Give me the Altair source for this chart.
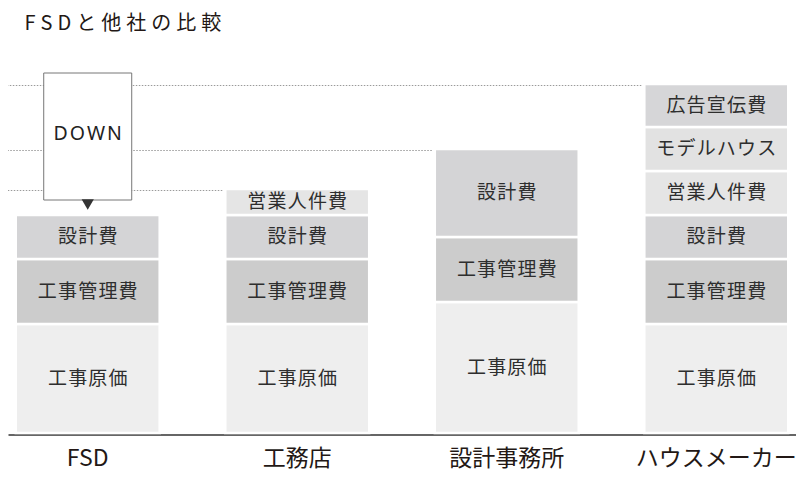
import altair as alt
import pandas as pd

FONT = "Noto Sans CJK JP"
HAIR = "\u200a"

# ---- data -------------------------------------------------------------
categories = ["FSD", "工務店", "設計事務所", "ハウスメーカー"]
segment_names = ["工事原価", "工事管理費", "設計費", "営業人件費", "モデルハウス", "広告宣伝費"]
segment_colors = ["#eeeeee", "#cccccc", "#d4d4d6", "#e5e5e5", "#e2e2e2", "#d6d6d8"]

fsd_values = [109, 65, 44]
koumuten_values = [109, 65, 44, 26]
sekkei_values = [131, 65, 88]
housemaker_values = [109, 65, 44, 44, 44, 43]

down_box = [233, 360]       # FSD "DOWN" callout (bottom, top)
down_marker = 228.5         # arrow head position
down_label = 299.5          # "DOWN" text position
title_text = "FSDと他社の比較"
down_text = "DOWN"

# ---- tables -----------------------------------------------------------
rows = []
for cat, vals in zip(categories, [fsd_values, koumuten_values, sekkei_values, housemaker_values]):
    cum = 0
    for name, v in zip(segment_names, vals):
        rows.append({"cat": cat, "seg": name, "start": cum, "end": cum + v,
                     "mid": cum + v / 2, "label": HAIR.join(name)})
        cum += v
seg_df = pd.DataFrame(rows)

totals_df = (seg_df.groupby("cat", sort=False)["end"].max().reset_index()
             .rename(columns={"end": "total"}))
totals_df = totals_df[totals_df["cat"] != "FSD"]

down_df = pd.DataFrame([{"cat": "FSD", "y0": down_box[0], "y1": down_box[1],
                         "marker": down_marker, "ly": down_label,
                         "text": HAIR.join(down_text)}])

# ---- encodings --------------------------------------------------------
x_scale = alt.Scale(domain=categories, paddingInner=0.313, paddingOuter=0.037)
x_axis = alt.Axis(title=None, labelAngle=0, labelFontSize=23, labelFont=FONT,
                  labelColor="#231815", ticks=False, domainColor="#666666",
                  domainWidth=2, offset=1.5, labelPadding=13, grid=False)
y_scale = alt.Scale(domain=[0, 397], nice=False, zero=True)


def X(**kw):
    return alt.X("cat:N", sort=categories, scale=x_scale, axis=x_axis, **kw)


rules = alt.Chart(totals_df).mark_rule(
    color="#9a9a9a", strokeDash=[1.5, 1.5], strokeWidth=1, yOffset=1.5, xOffset=-3
).encode(
    x=X(bandPosition=0),
    x2=alt.value(0),
    y=alt.Y("total:Q", scale=y_scale, axis=None),
)

bars = alt.Chart(seg_df).mark_bar(stroke="white", strokeWidth=2.5).encode(
    x=X(),
    y=alt.Y("start:Q", scale=y_scale, axis=None),
    y2="end:Q",
    color=alt.Color("seg:N", scale=alt.Scale(domain=segment_names, range=segment_colors),
                    legend=None),
)

labels = alt.Chart(seg_df).mark_text(font=FONT, fontSize=19, color="#2e2e2e").encode(
    x=X(),
    y=alt.Y("mid:Q", scale=y_scale, axis=None),
    text="label:N",
)

box = alt.Chart(down_df).mark_bar(width=88, fill="white", stroke="#777777",
                                  strokeWidth=1).encode(
    x=X(),
    y=alt.Y("y0:Q", scale=y_scale, axis=None),
    y2="y1:Q",
)

arrow = alt.Chart(down_df).mark_point(shape="triangle-down", filled=True, size=150,
                                      color="#333333", opacity=1).encode(
    x=X(),
    y=alt.Y("marker:Q", scale=y_scale, axis=None),
)

down_lbl = alt.Chart(down_df).mark_text(font="Noto Sans", fontSize=19.5,
                                        color="#222222").encode(
    x=X(),
    y=alt.Y("ly:Q", scale=y_scale, axis=None),
    text="text:N",
)

chart = alt.layer(rules, bars, labels, box, arrow, down_lbl).properties(
    width=788,
    height=397,
    autosize=alt.AutoSizeParams(type="none"),
    padding={"left": 0, "right": 0, "top": 28, "bottom": 40},
    title=alt.Title("\u2005".join(title_text), anchor="start", dx=17, fontSize=20,
                    font=FONT, fontWeight="normal", color="#231815", offset=2),
    background="white",
).configure_view(stroke=None)

chart.save("out.html", embed_options={"renderer": "svg", "actions": False})
